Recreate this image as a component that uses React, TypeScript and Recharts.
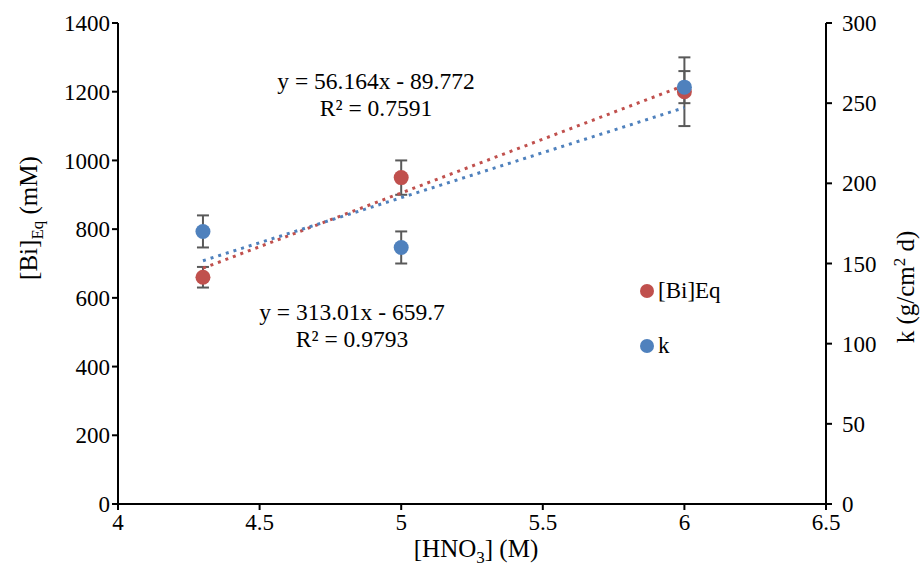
import {
  ComposedChart,
  Scatter,
  XAxis,
  YAxis,
  ErrorBar,
  Legend,
  Customized,
} from "recharts";

const FONT = '"Liberation Serif", "Times New Roman", serif';
const RED = "#C0504D";
const BLUE = "#4F81BD";
const ERR = "#595959";

// [HNO3] (M)
const hno3 = [4.3, 5, 6];
// [Bi]Eq (mM), left axis
const biEq = [660, 950, 1200];
const biEqErr = [30, 50, 100];
// k (g/cm2 d), right axis
const kVals = [170, 160, 260];
const kErr = [10, 10, 10];

const xTicks = [4, 4.5, 5, 5.5, 6, 6.5];
const leftTicks = [0, 200, 400, 600, 800, 1000, 1200, 1400];
const rightTicks = [0, 50, 100, 150, 200, 250, 300];

const biData = hno3.map((x, i) => ({ x, y: biEq[i], err: biEqErr[i] }));
const kData = hno3.map((x, i) => ({ x, y: kVals[i], err: kErr[i] }));

const tickStyle = { fontSize: 23, fill: "#000", fontFamily: FONT };
const axisLine = { stroke: "#000", strokeWidth: 2 };

const marker = (color: string) => (p: any) =>
  <circle cx={p.cx} cy={p.cy} r={7.5} fill={color} />;

const trendLine = (color: string) => ({
  stroke: color,
  strokeWidth: 3,
  strokeDasharray: "3 5",
});

function Equations() {
  return (
    <g fontFamily={FONT} fontSize={23.5} fill="#000" textAnchor="middle">
      <text x={376} y={89}>y = 56.164x - 89.772</text>
      <text x={376} y={116}>R² = 0.7591</text>
      <text x={352} y={320}>y = 313.01x - 659.7</text>
      <text x={352} y={347}>R² = 0.9793</text>
    </g>
  );
}

function LegendBox(props: any) {
  const items = props.payload || [];
  return (
    <div style={{ fontFamily: FONT, fontSize: 23, color: "#000" }}>
      {items.map((it: any) => (
        <div
          key={it.value}
          style={{ display: "flex", alignItems: "center", height: 28, marginBottom: 27 }}
        >
          <span
            style={{
              width: 14,
              height: 14,
              borderRadius: "50%",
              background: it.color,
              marginRight: 4,
              display: "inline-block",
            }}
          />
          {it.value}
        </div>
      ))}
    </div>
  );
}

export default function App() {
  return (
    <div style={{ position: "absolute", left: 0, top: 0, background: "#fff" }}>
      <ComposedChart
        width={920}
        height={567}
        margin={{ top: 23, right: 44, bottom: 23, left: 58 }}
        style={{ fontFamily: FONT }}
      >
        <XAxis
          type="number"
          dataKey="x"
          domain={[4, 6.5]}
          ticks={xTicks}
          interval={0}
          height={40}
          axisLine={axisLine}
          tick={tickStyle}
          tickLine={axisLine}
          tickMargin={4}
          label={{
            content: () => (
              <text x={476} y={557} textAnchor="middle" fontFamily={FONT} fontSize={25} fill="#000">
                [HNO<tspan dy={6} fontSize={17}>3</tspan>
                <tspan dy={-6}>] (M)</tspan>
              </text>
            ),
          }}
        />
        <YAxis
          yAxisId="left"
          type="number"
          dataKey="y"
          domain={[0, 1400]}
          ticks={leftTicks}
          interval={0}
          width={60}
          axisLine={axisLine}
          tick={tickStyle}
          tickLine={axisLine}
          label={{
            content: () => (
              <text
                x={0}
                y={0}
                transform="translate(37 218) rotate(-90)"
                textAnchor="middle"
                fontFamily={FONT}
                fontSize={25}
                fill="#000"
              >
                [Bi]<tspan dy={6} fontSize={17}>Eq</tspan>
                <tspan dy={-6}> (mM)</tspan>
              </text>
            ),
          }}
        />
        <YAxis
          yAxisId="right"
          orientation="right"
          type="number"
          dataKey="y"
          domain={[0, 300]}
          ticks={rightTicks}
          interval={0}
          width={50}
          axisLine={axisLine}
          tick={tickStyle}
          tickLine={axisLine}
          tickMargin={10}
          label={{
            content: () => (
              <text
                x={0}
                y={0}
                transform="translate(914 287) rotate(-90)"
                textAnchor="middle"
                fontFamily={FONT}
                fontSize={25}
                fill="#000"
              >
                k (g/cm<tspan dy={-9} fontSize={17}>2</tspan>
                <tspan dy={9}> d)</tspan>
              </text>
            ),
          }}
        />
        <Scatter
          name="[Bi]Eq"
          data={biData}
          yAxisId="left"
          fill={RED}
          line={trendLine(RED)}
          lineType="fitting"
          shape={marker(RED)}
          isAnimationActive={false}
        >
          <ErrorBar dataKey="err" direction="y" width={6} stroke={ERR} strokeWidth={2} />
        </Scatter>
        <Scatter
          name="k"
          data={kData}
          yAxisId="right"
          fill={BLUE}
          line={trendLine(BLUE)}
          lineType="fitting"
          shape={marker(BLUE)}
          isAnimationActive={false}
        >
          <ErrorBar dataKey="err" direction="y" width={6} stroke={ERR} strokeWidth={2} />
        </Scatter>
        <Legend
          layout="vertical"
          align="center"
          verticalAlign="middle"
          wrapperStyle={{ left: 640, top: 277, width: "auto" }}
          content={<LegendBox />}
        />
        <Customized component={Equations} />
      </ComposedChart>
    </div>
  );
}
